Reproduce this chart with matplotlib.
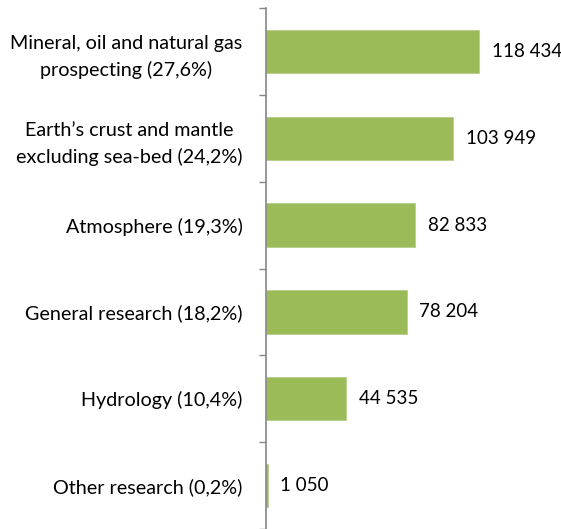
import numpy as np
import matplotlib
matplotlib.use("Agg")
from matplotlib import pyplot as plt

categories = ["Mineral, oil and natural gas\nprospecting (27,6%)",
              "Earth\u2019s crust and mantle\nexcluding sea-bed (24,2%)",
              "Atmosphere (19,3%)",
              "General research (18,2%)",
              "Hydrology (10,4%)",
              "Other research (0,2%)"]
values = [118434, 103949, 82833, 78204, 44535, 1050]
value_labels = ["118 434", "103 949", "82 833", "78 204", "44 535", "1 050"]

plt.rcParams['font.family'] = ['Lato', 'DejaVu Sans']

fig = plt.figure(figsize=(5.61, 5.29), dpi=100)
ax = fig.add_axes([266 / 561, 0, 1 - 266 / 561, 1 - 8 / 529])

n = len(values)
pos = np.arange(n)
ax.barh(pos, values, height=0.5, color="#9BBB59", edgecolor="#B5D08A", linewidth=0.6)
ax.set_ylim(n - 0.5, -0.5)
ax.set_xlim(0, 164000)

for p, v, lab in zip(pos, values, value_labels):
    ax.text(v + 7000, p, lab, va="center", ha="left", fontsize=13.5, color="black")

# category boundaries as major ticks, labels on minor ticks
ax.set_yticks(np.arange(-0.5, n, 1.0))
ax.set_yticklabels([])
ax.set_yticks(pos, minor=True)
ax.set_yticklabels(categories, minor=True, fontsize=14.2, ha="right",
                   multialignment="center", linespacing=1.55)
ax.tick_params(axis="y", which="major", length=5, width=1, color="#868686", direction="out")
ax.tick_params(axis="y", which="minor", length=0, pad=17)
ax.set_xticks([])

for s in ["top", "right", "bottom"]:
    ax.spines[s].set_visible(False)
ax.spines["left"].set_color("#868686")
ax.spines["left"].set_linewidth(1.2)

fig.savefig("out.png", dpi=100)
